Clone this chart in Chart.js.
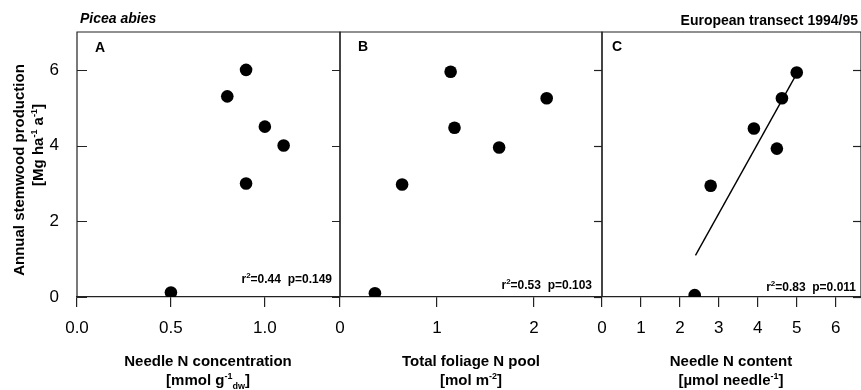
<!DOCTYPE html>
<html>
<head>
<meta charset="utf-8">
<script src="https://cdn.jsdelivr.net/npm/chart.js@4.4.1/dist/chart.umd.min.js"></script>
<style>
  body { margin: 0; width: 861px; height: 390px; position: relative; overflow: hidden; background: #fff;
         font-family: "Liberation Sans", Arial, sans-serif; color: #000; }
  canvas { position: absolute; top: 0; }
  .t { position: absolute; font-weight: bold; white-space: nowrap; line-height: 1; }
  .xt { position: absolute; width: 300px; text-align: center; font-weight: bold; font-size: 15px; line-height: 19px; }
  .yt { position: absolute; text-align: center; font-weight: bold; font-size: 15px; white-space: nowrap; transform: rotate(-90deg); }
  sup { font-size: 9px; vertical-align: 0; position: relative; top: -6px; }
  sub { font-size: 9px; vertical-align: 0; position: relative; top: 4px; }
  .r2 sup { font-size: 8px; top: -5px; }
</style>
</head>
<body>
<canvas id="chartA" width="356" height="390" style="left:0px"></canvas>
<canvas id="chartB" width="298" height="390" style="left:320px"></canvas>
<canvas id="chartC" width="295" height="390" style="left:582px"></canvas>

<div class="t" style="left:80px; top:11px; font-size:14px; font-style:italic;">Picea abies</div>
<div class="t" style="right:3px; top:13px; font-size:14px;">European transect 1994/95</div>

<div class="t" style="left:95px; top:40px; font-size:14px;">A</div>
<div class="t" style="left:358px; top:39px; font-size:14px;">B</div>
<div class="t" style="left:612px; top:39px; font-size:14px;">C</div>

<div class="t r2" style="right:529px; top:273px; font-size:12px;">r<sup>2</sup>=0.44&nbsp;&nbsp;p=0.149</div>
<div class="t r2" style="right:269px; top:279px; font-size:12px;">r<sup>2</sup>=0.53&nbsp;&nbsp;p=0.103</div>
<div class="t r2" style="right:5px; top:281px; font-size:12px;">r<sup>2</sup>=0.83&nbsp;&nbsp;p=0.011</div>

<div class="xt" style="left:58px; top:351px;">Needle N concentration<br>[mmol g<sup>-1</sup><sub>dw</sub>]</div>
<div class="xt" style="left:321px; top:351px;">Total foliage N pool<br>[mol m<sup>-2</sup>]</div>
<div class="xt" style="left:581px; top:351px;">Needle N content<br>[µmol needle<sup>-1</sup>]</div>

<div class="yt" style="left:-111px; top:160px; width:260px; height:20px; line-height:20px;">Annual stemwood production</div>
<div class="yt" style="left:-92px; top:135px; width:260px; height:20px; line-height:20px;">[Mg ha<sup>-1</sup> a<sup>-1</sup>]</div>

<script>
// y axis shared by the three panels
const yTicks = [0, 2, 4, 6];
const yMax = 7;

// panel A: needle N concentration
const aTicks = [0, 0.5, 1.0];
const aMax = 1.4;
const aX = [0.5, 0.8, 0.9, 0.9, 1.0, 1.1];
const aY = [0.12, 5.3, 6.0, 3.0, 4.5, 4.0];

// panel B: total foliage N pool
const bTicks = [0, 1, 2];
const bMax = 2.7;
const bX = [0.36, 0.64, 1.14, 1.18, 1.64, 2.13];
const bY = [0.1, 2.97, 5.95, 4.47, 3.95, 5.25];

// panel C: needle N content, with regression line
const cTicks = [0, 1, 2, 3, 4, 5, 6];
const cMax = 6.65;
const cX = [2.38, 2.79, 3.9, 4.49, 4.62, 5.0];
const cY = [0.05, 2.94, 4.45, 3.92, 5.25, 5.93];
const cFitX = [2.4, 5.0];
const cFitY = [1.1, 5.9];

const ink = '#222';

function toPoints(xs, ys) {
  return xs.map((x, i) => ({ x: x, y: ys[i] }));
}

// box round the panel and the inward y ticks
const frame = {
  id: 'frame',
  afterDraw(chart, args, opts) {
    const { ctx, chartArea: a, scales: { y } } = chart;
    ctx.save();
    ctx.strokeStyle = ink;
    ctx.lineWidth = 1.2;
    ctx.beginPath();
    ctx.moveTo(a.left, a.bottom);
    ctx.lineTo(a.left, a.top);
    ctx.lineTo(a.right, a.top);
    ctx.lineTo(a.right, a.bottom);
    ctx.stroke();
    yTicks.forEach((v) => {
      const py = Math.round(y.getPixelForValue(v)) + 0.5;
      ctx.beginPath();
      if (opts.left) {
        ctx.moveTo(a.left, py);
        ctx.lineTo(a.left + 10, py);
      }
      ctx.moveTo(a.right, py);
      ctx.lineTo(a.right - 8, py);
      ctx.stroke();
    });
    ctx.restore();
  }
};

function makePanel(id, xs, ys, xTicks, xMax, digits, opt) {
  const datasets = [{
    type: 'scatter',
    data: toPoints(xs, ys),
    backgroundColor: '#000',
    borderWidth: 0,
    pointRadius: 6.3
  }];
  if (opt.fitX) {
    datasets.push({
      type: 'line',
      data: toPoints(opt.fitX, opt.fitY),
      borderColor: '#000',
      borderWidth: 1.4,
      pointRadius: 0,
      fill: false
    });
  }
  return new Chart(document.getElementById(id), {
    type: 'scatter',
    data: { datasets: datasets },
    options: {
      responsive: false,
      animation: false,
      events: [],
      layout: { padding: { left: 0, right: 16, top: 32, bottom: 48 } },
      plugins: { legend: { display: false }, tooltip: { enabled: false }, frame: { left: opt.yLabels } },
      scales: {
        x: {
          type: 'linear',
          min: 0,
          max: xMax,
          afterBuildTicks: (scale) => { scale.ticks = xTicks.map((v) => ({ value: v })); },
          afterFit: (scale) => { scale.height = 45; },
          ticks: {
            color: '#000',
            font: { family: '"Liberation Sans", Arial, sans-serif', size: 17 },
            padding: 11,
            maxRotation: 0,
            callback: (v) => v.toFixed(digits)
          },
          grid: { drawOnChartArea: false, drawTicks: true, tickLength: 10, color: ink, lineWidth: 1.2 },
          border: { display: true, color: ink, width: 1.2 }
        },
        y: {
          type: 'linear',
          min: 0,
          max: yMax,
          afterBuildTicks: (scale) => { scale.ticks = yTicks.map((v) => ({ value: v })); },
          afterFit: (scale) => { scale.width = opt.yWidth; },
          ticks: {
            display: opt.yLabels,
            color: '#000',
            font: { family: '"Liberation Sans", Arial, sans-serif', size: 17 },
            padding: 10
          },
          grid: { display: false },
          border: { display: false }
        }
      }
    },
    plugins: [frame]
  });
}

makePanel('chartA', aX, aY, aTicks, aMax, 1, { yLabels: true, yWidth: 77 });
makePanel('chartB', bX, bY, bTicks, bMax, 0, { yLabels: false, yWidth: 20 });
makePanel('chartC', cX, cY, cTicks, cMax, 0, { yLabels: false, yWidth: 20, fitX: cFitX, fitY: cFitY });
</script>
</body>
</html>
